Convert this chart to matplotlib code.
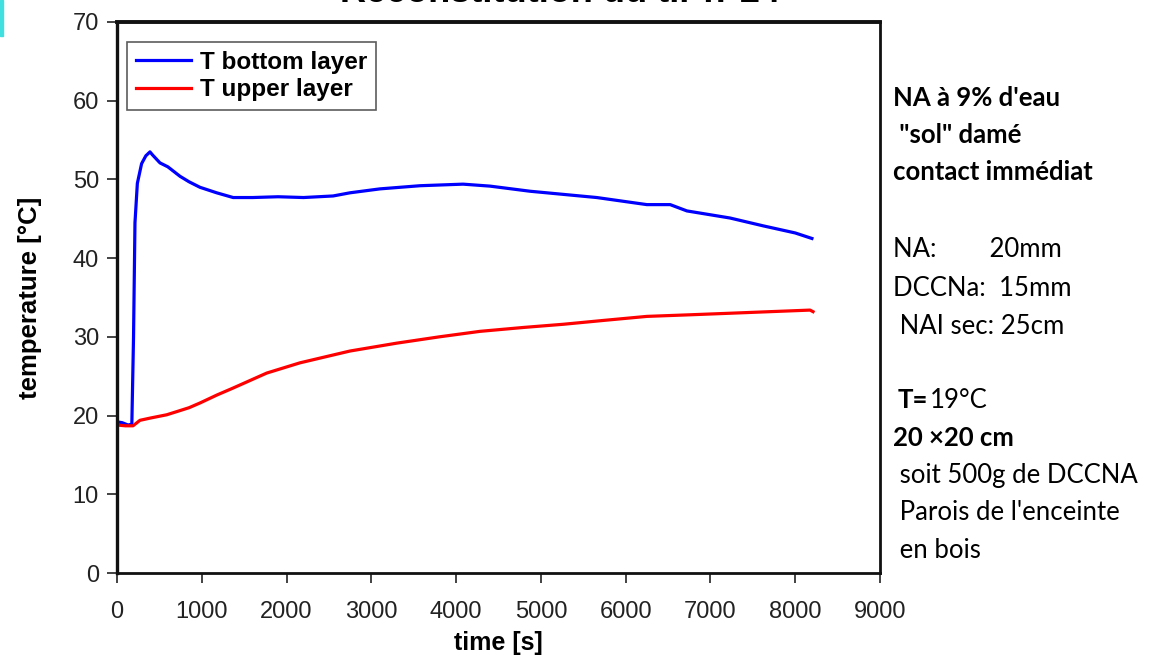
import matplotlib
matplotlib.use('Agg')
import matplotlib.pyplot as plt
import numpy as np

# values
t_bottom = [0, 60, 130, 175, 195, 212, 240, 290, 340, 389, 420, 507, 600, 743, 850,
            979, 1176, 1370, 1600, 1900, 2200, 2550, 2748, 3102, 3574, 4082, 4400,
            4872, 5265, 5659, 6250, 6525, 6722, 7230, 7623, 8000, 8197]
T_bottom = [19.2, 19.1, 18.8, 18.9, 30.0, 44.5, 49.5, 52.0, 53.0, 53.5, 53.1, 52.1,
            51.6, 50.4, 49.7, 49.0, 48.3, 47.7, 47.7, 47.8, 47.7, 47.9, 48.3, 48.8,
            49.2, 49.4, 49.15, 48.5, 48.1, 47.7, 46.8, 46.8, 46.0, 45.1, 44.1, 43.2, 42.5]

t_upper = [0, 100, 189, 271, 400, 586, 704, 850, 979, 1176, 1370, 1766, 2158, 2551,
           2748, 3299, 3800, 4282, 4800, 5265, 5750, 6250, 6750, 7230, 7700, 8175, 8210]
T_upper = [18.8, 18.7, 18.7, 19.4, 19.7, 20.1, 20.5, 21.0, 21.6, 22.6, 23.5, 25.4,
           26.7, 27.7, 28.2, 29.2, 30.0, 30.7, 31.2, 31.6, 32.1, 32.6, 32.8, 33.0,
           33.2, 33.4, 33.2]

x_ticks = np.arange(0, 9001, 1000)
y_ticks = np.arange(0, 71, 10)

notes = [
    ("NA à 9% d'eau", 98, 893, 'bold'),
    (' "sol" damé', 135, 893, 'bold'),
    ('contact immédiat', 172, 893, 'bold'),
    ('NA:        20mm', 250, 893, 'normal'),
    ('DCCNa:  15mm', 288, 893, 'normal'),
    (' NAI sec: 25cm', 326, 893, 'normal'),
    ('20 ×20 cm', 438, 893, 'bold'),
    (' soit 500g de DCCNA', 475, 893, 'normal'),
    (' Parois de l\'enceinte', 513, 893, 'normal'),
    (' en bois', 550, 893, 'normal'),
]

plt.rcParams['font.family'] = ['Liberation Sans', 'DejaVu Sans']

W, H = 1150, 671
fig = plt.figure(figsize=(W / 100, H / 100), dpi=100)
ax = fig.add_axes([117 / W, (H - 573) / H, 763 / W, 551 / H])

ax.plot(t_bottom, T_bottom, color='#0000FF', linewidth=2.3, label='T bottom layer')
ax.plot(t_upper, T_upper, color='#FF0000', linewidth=2.3, label='T upper layer')

ax.set_xlim(0, 9000)
ax.set_ylim(0, 70)
ax.set_xticks(x_ticks)
ax.set_yticks(y_ticks)
ax.tick_params(axis='both', direction='out', length=7, width=1.2, labelsize=17,
               colors='#222222')
ax.tick_params(axis='x', pad=13)
ax.tick_params(axis='y', pad=6)
for name, sp in ax.spines.items():
    sp.set_linewidth(2.0)
    sp.set_color('#111111')
ax.spines['top'].set_linewidth(2.8)
ax.spines['left'].set_linewidth(2.4)

ax.set_xlabel('time [s]', fontsize=18, fontweight='bold', labelpad=6)
ax.set_ylabel('temperature [°C]', fontsize=18.5, fontweight='bold', labelpad=22)

leg = ax.legend(loc='upper left', bbox_to_anchor=(10 / 763, 1 - 20 / 551),
                prop={'weight': 'bold', 'size': 17.5}, frameon=True, fancybox=False,
                borderpad=0.35, labelspacing=0.2, handlelength=2.3,
                handletextpad=0.35, borderaxespad=0)
leg.get_frame().set_edgecolor('#333333')
leg.get_frame().set_linewidth(1.2)

# side notes
for txt, ypx, xpx, wt in notes:
    fig.text(xpx / W, 1 - ypx / H, txt, fontsize=18.5, fontweight=wt,
             family=['Lato', 'DejaVu Sans'], va='center', ha='left')
fig.text(898 / W, 1 - 400 / H, 'T=', fontsize=18.5, fontweight='bold',
         family=['Lato', 'DejaVu Sans'], va='center', ha='left')
fig.text(930 / W, 1 - 400 / H, '19°C', fontsize=18.5,
         family=['Lato', 'DejaVu Sans'], va='center', ha='left')

# title, cut off by the top edge
fig.text(560 / W, 1 - 2 / H, 'Reconstitution du tir n°24', fontsize=26,
         fontweight='bold', ha='center', va='baseline')

# cyan sliver on the left edge
fig.patches.append(plt.Rectangle((0, 1 - 36 / H), 3 / W, 36 / H,
                                 transform=fig.transFigure, color='#40E0E0'))

fig.savefig('out.png', dpi=100)
